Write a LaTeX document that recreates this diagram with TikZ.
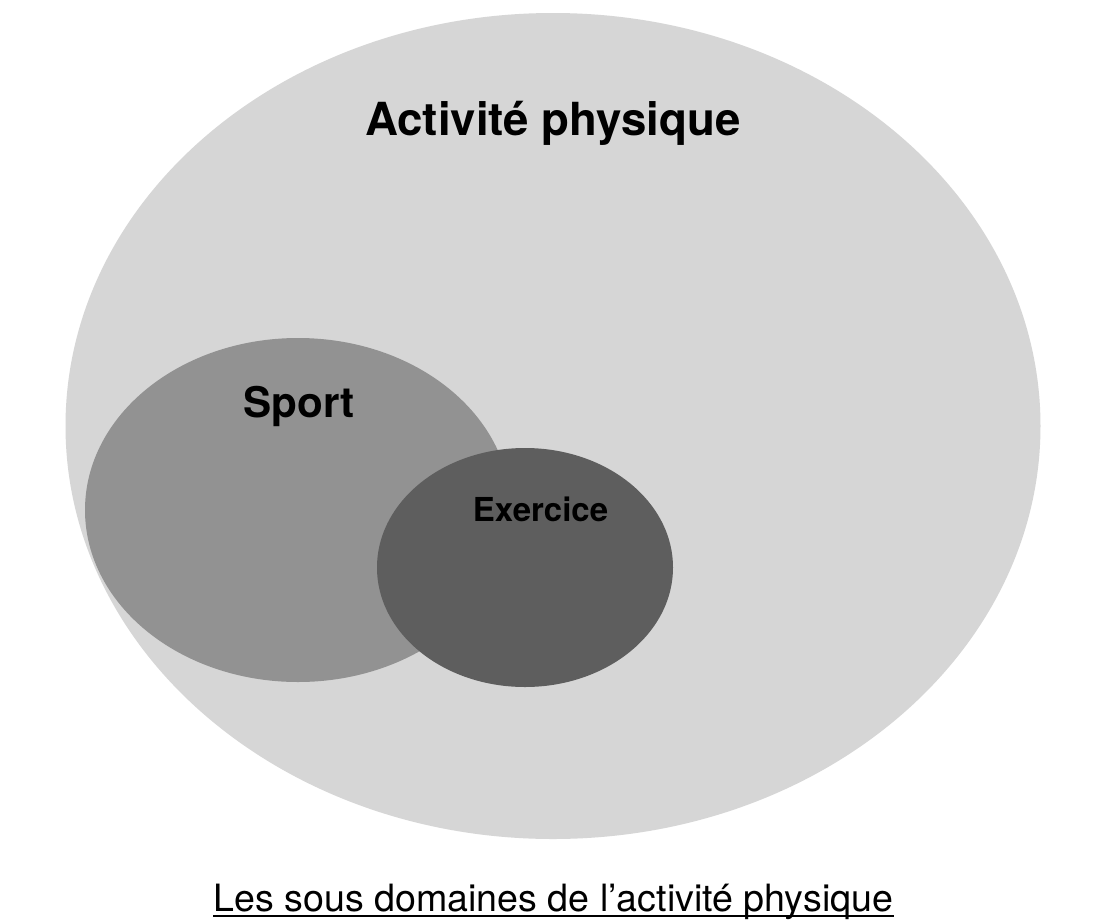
\documentclass[tikz,border=0pt]{standalone}
\usepackage{fontspec}
\setmainfont{TeX Gyre Heros}
\usetikzlibrary{shapes.geometric}
\definecolor{bigfill}{HTML}{D6D6D6}
\definecolor{sportfill}{HTML}{929292}
\definecolor{exfill}{HTML}{5E5E5E}
\tikzset{
  blob/.style={ellipse, inner sep=0pt, draw=none},
  lbl/.style={anchor=base, inner sep=0pt, text=black, font=\bfseries},
}
\begin{document}
\begin{tikzpicture}[x=1pt,y=-1pt]
\useasboundingbox (0,0) rectangle (1112,922);
\fill[white] (0,0) rectangle (1112,922);
\node[blob, fill=bigfill, minimum width=975pt, minimum height=826pt] (act) at (553,426) {};
\node[blob, fill=sportfill, minimum width=426pt, minimum height=344pt] (sport) at (298,510) {};
\node[blob, fill=exfill, minimum width=296pt, minimum height=239pt] (ex) at (525,567.5) {};
\node[lbl, font=\bfseries\fontsize{45.6}{52}\selectfont] (tact) at (553,135) {Activité physique};
\node[lbl, font=\bfseries\fontsize{42.2}{48}\selectfont] (tsport) at (299,417.5) {Sport};
\node[lbl, font=\bfseries\fontsize{33}{38}\selectfont] (tex) at (540.5,521) {Exercice};
\node[anchor=base, inner sep=0pt, font=\fontsize{37.6}{44}\selectfont] (cap) at (553.5,911.5) {Les sous domaines de l’activité physique};
\draw[line width=2pt] ([yshift=-4.5pt]cap.base west) -- ([yshift=-4.5pt]cap.base east);
\end{tikzpicture}
\end{document}
